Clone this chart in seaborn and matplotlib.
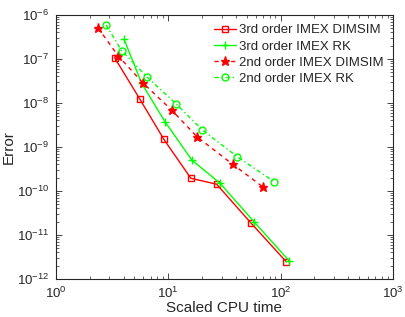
import numpy as np
import pandas as pd
import seaborn as sns
import matplotlib.pyplot as plt
import matplotlib as mpl
from matplotlib.ticker import LogLocator, NullFormatter

sns.set_style("ticks")
plt.rcParams['font.family'] = ['Liberation Sans', 'DejaVu Sans']
plt.rcParams['mathtext.default'] = 'regular'
plt.rcParams.update({'xtick.direction': 'in', 'ytick.direction': 'in',
                     'xtick.top': True, 'ytick.right': True,
                     'xtick.labelsize': 9.5, 'ytick.labelsize': 9.5,
                     'axes.labelsize': 11, 'legend.fontsize': 9.5})

# values
cpu_dimsim3 = [3.33, 5.60, 9.16, 15.9, 27.0, 54.2, 113.0]
err_dimsim3 = [1.07e-7, 1.21e-8, 1.48e-9, 1.94e-10, 1.42e-10, 1.90e-11, 2.43e-12]

cpu_rk3 = [4.03, 5.80, 9.35, 16.2, 28.9, 58.3, 119.5]
err_rk3 = [2.85e-7, 2.80e-8, 3.76e-9, 5.07e-10, 1.50e-10, 1.97e-11, 2.56e-12]

cpu_dimsim2 = [2.37, 3.59, 5.99, 10.7, 18.1, 37.4, 70.4]
err_dimsim2 = [5.07e-7, 1.17e-7, 2.80e-8, 6.93e-9, 1.69e-9, 4.05e-10, 1.21e-10]

cpu_rk2 = [2.79, 3.85, 6.50, 11.7, 20.1, 41.1, 87.3]
err_rk2 = [5.93e-7, 1.54e-7, 3.84e-8, 9.66e-9, 2.43e-9, 6.02e-10, 1.63e-10]

red, green = '#ff0000', '#00ff00'
series = [
    ('3rd order IMEX DIMSIM', cpu_dimsim3, err_dimsim3, red, '-', 's', 4.5),
    ('3rd order IMEX RK', cpu_rk3, err_rk3, green, '-', '+', 5.5),
    ('2nd order IMEX DIMSIM', cpu_dimsim2, err_dimsim2, red, (0, (3, 3)), '*', 6.5),
    ('2nd order IMEX RK', cpu_rk2, err_rk2, green, (0, (3, 2, 1, 2)), 'o', 5),
]

fig = plt.figure(figsize=(4.05, 3.17), dpi=100)
ax = fig.add_axes([0.138, 0.120, 0.832, 0.833])

for name, x, y, col, ls, mk, ms in series:
    df = pd.DataFrame({'cpu': x, 'err': y})
    sns.lineplot(data=df, x='cpu', y='err', ax=ax, sort=False, color=col,
                 linestyle=ls, linewidth=1.0, marker=mk, markersize=ms,
                 markerfacecolor=col if mk == '*' else 'none',
                 markeredgecolor=col, markeredgewidth=1.0, label=name)

ax.set_xscale('log')
ax.set_yscale('log')
ax.set_xlim(1, 1000)
ax.set_ylim(1e-12, 1e-6)
ax.yaxis.set_major_locator(LogLocator(base=10, numticks=10))
ax.yaxis.set_minor_locator(LogLocator(base=10, subs=np.arange(2, 10), numticks=20))
ax.yaxis.set_minor_formatter(NullFormatter())
ax.xaxis.set_minor_formatter(NullFormatter())
ax.tick_params(which='major', length=4, width=0.6, colors='#262626', pad=5)
ax.tick_params(which='minor', length=2, width=0.5)
for s in ax.spines.values():
    s.set_linewidth(0.8)
    s.set_color('#262626')
ax.set_xlabel('Scaled CPU time', labelpad=0)
ax.set_ylabel('Error')
ax.yaxis.set_label_coords(-0.118, 0.5)

leg = ax.legend(loc='upper right', frameon=False, handlelength=1.7,
                handletextpad=0.2, labelspacing=0.3, borderaxespad=0.3)

plt.savefig('out.png', dpi=100)
